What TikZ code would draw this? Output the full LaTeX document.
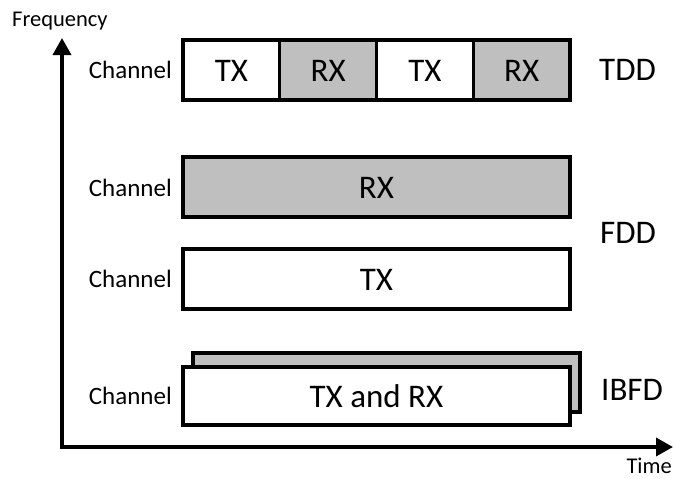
\documentclass[tikz,border=0pt]{standalone}
\usepackage{fontspec}
\setmainfont{Carlito}
\usetikzlibrary{arrows.meta}
\definecolor{slotgray}{HTML}{BFBFBF}
\tikzset{
  slot/.style={draw=black, line width=3.3pt, inner sep=0pt, minimum height=60pt,
    text height=22pt, text depth=0pt, font=\fontsize{33}{36}\selectfont},
  txslot/.style={slot, fill=white},
  rxslot/.style={slot, fill=slotgray},
  chlabel/.style={anchor=base east, inner sep=0pt, font=\fontsize{25}{28}\selectfont},
  modelabel/.style={anchor=base west, inner sep=0pt, font=\fontsize{33}{36}\selectfont},
  axislabel/.style={inner sep=0pt, font=\fontsize{22.5}{25}\selectfont},
  axis/.style={line width=3.5pt, line join=miter,
    arrows={Triangle[width=18pt,length=17pt]-Triangle[width=18pt,length=17pt]}}
}
\begin{document}
\begin{tikzpicture}[x=1pt, y=-1pt]
\useasboundingbox (0,0) rectangle (675,479);

% axes
\coordinate (origin) at (62,447);
\coordinate (ytip) at (62,38);
\coordinate (xtip) at (673,447);
\draw[axis] (ytip) -- (origin) -- (xtip);
\node[axislabel, anchor=base west] (freq) at (12,26) {Frequency};
\node[axislabel, anchor=base east] (time) at (672,473) {Time};

% TDD: one channel, alternating slots in time
\node[txslot, minimum width=96.75pt] (tdd1) at (231.375,70) {TX};
\node[rxslot, minimum width=96.75pt] (tdd2) at (328.125,70) {RX};
\node[txslot, minimum width=96.75pt] (tdd3) at (424.875,70) {TX};
\node[rxslot, minimum width=96.75pt] (tdd4) at (521.625,70) {RX};
\node[chlabel] (ch1) at (172,78) {Channel};
\node[modelabel] (tdd) at (599,80) {TDD};

% FDD: two separate channels
\node[rxslot, minimum width=387pt] (fddrx) at (376.5,187) {RX};
\node[txslot, minimum width=387pt] (fddtx) at (376.5,279) {TX};
\node[chlabel] (ch2) at (172,196) {Channel};
\node[chlabel] (ch3) at (172,287) {Channel};
\node[modelabel] (fdd) at (600,243) {FDD};

% IBFD: same channel, same time
\node[rxslot, minimum width=387pt, minimum height=59pt] (ibback) at (386.5,382.5) {};
\node[txslot, minimum width=387pt, minimum height=58pt] (ibfront) at (376.5,396) {TX and RX};
\node[chlabel] (ch4) at (172,404) {Channel};
\node[modelabel] (ibfd) at (601,400) {IBFD};
\end{tikzpicture}
\end{document}
